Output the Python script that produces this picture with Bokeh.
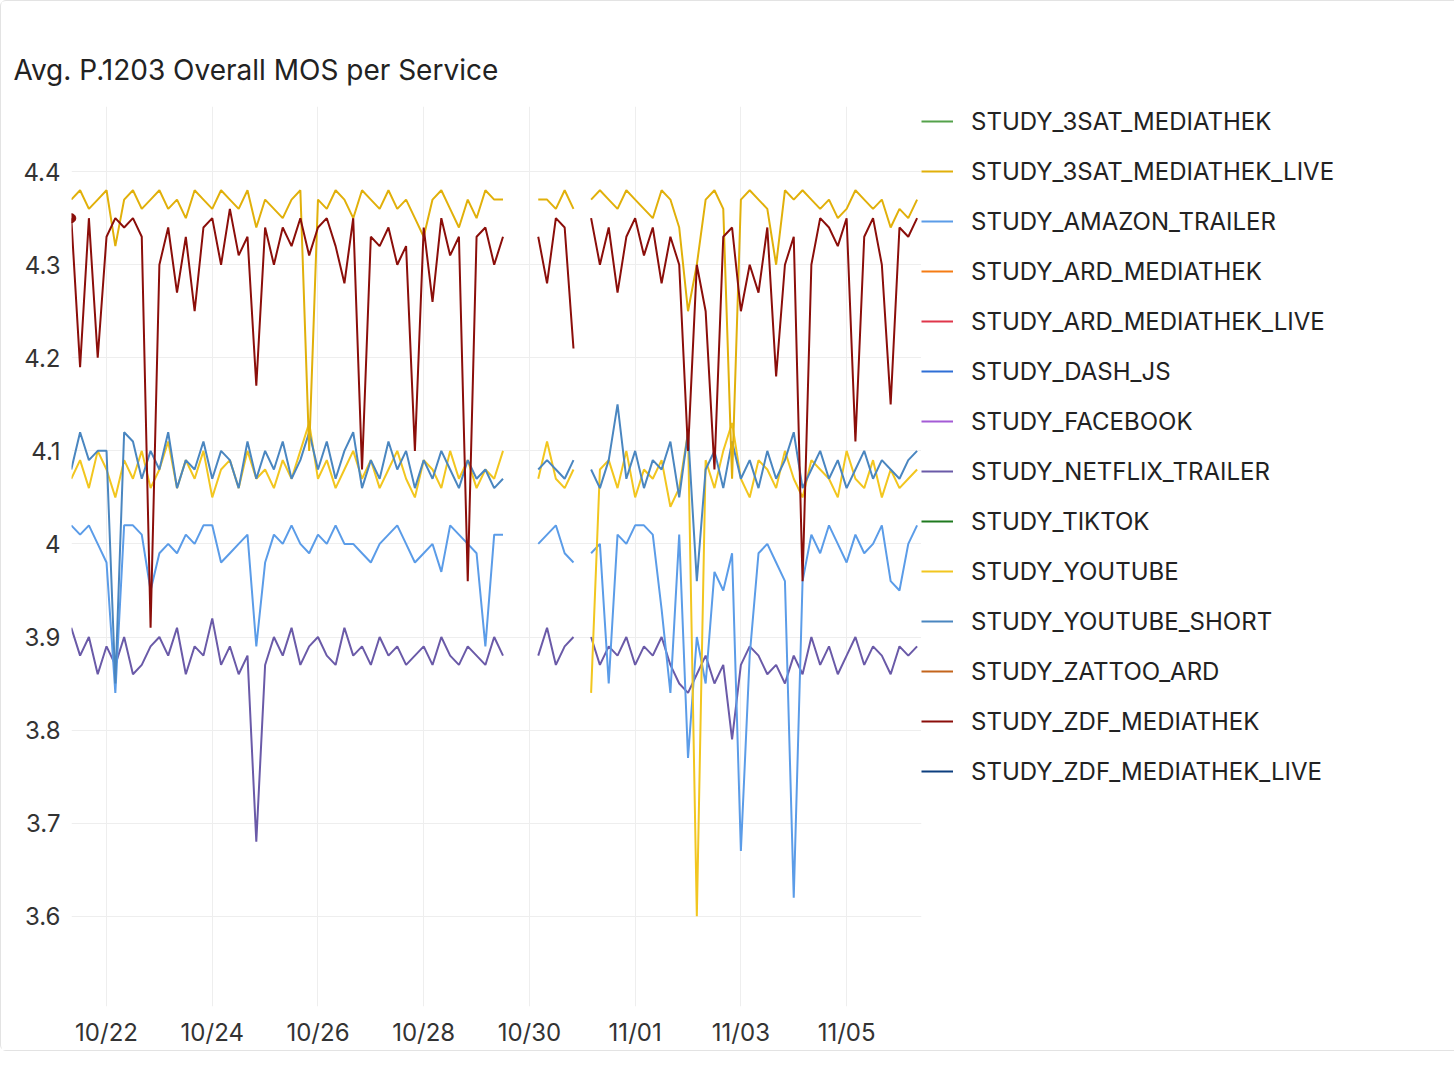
import numpy as np
import pandas as pd
from bokeh.plotting import figure
from bokeh.models import Legend, LegendItem, Range1d, DatetimeTickFormatter, FixedTicker, CustomJSTickFormatter
from bokeh.embed import file_html
from bokeh.resources import INLINE

N = np.nan
times = pd.date_range("2025-10-21 08:00", periods=97, freq="4h")

services = ["STUDY_3SAT_MEDIATHEK", "STUDY_3SAT_MEDIATHEK_LIVE", "STUDY_AMAZON_TRAILER", "STUDY_ARD_MEDIATHEK",
            "STUDY_ARD_MEDIATHEK_LIVE", "STUDY_DASH_JS", "STUDY_FACEBOOK", "STUDY_NETFLIX_TRAILER", "STUDY_TIKTOK",
            "STUDY_YOUTUBE", "STUDY_YOUTUBE_SHORT", "STUDY_ZATTOO_ARD", "STUDY_ZDF_MEDIATHEK", "STUDY_ZDF_MEDIATHEK_LIVE"]
colors = ["#54a24b", "#e1b00a", "#5b9ce8", "#f57c14", "#e0364b", "#2f6fd6", "#a45bd6", "#6a5aa8", "#1f7a1f",
          "#f2c61f", "#4a86c0", "#c4651c", "#8b0e0a", "#0d3f7f"]
hidden = ["STUDY_ARD_MEDIATHEK", "STUDY_ARD_MEDIATHEK_LIVE", "STUDY_DASH_JS", "STUDY_FACEBOOK"]
tick_dates = ["2025-10-22", "2025-10-24", "2025-10-26", "2025-10-28", "2025-10-30",
              "2025-11-01", "2025-11-03", "2025-11-05"]
y_ticks = [3.6, 3.7, 3.8, 3.9, 4.0, 4.1, 4.2, 4.3, 4.4]

zdf = [4.35,4.19,4.35,4.20,4.33,4.35,4.34,4.35,4.33,3.91,4.30,4.34,4.27,4.33,4.25,4.34,4.35,4.30,4.36,4.31,
       4.33,4.17,4.34,4.30,4.34,4.32,4.35,4.31,4.34,4.35,4.32,4.28,4.35,4.08,4.33,4.32,4.34,4.30,4.32,4.10,
       4.34,4.26,4.35,4.31,4.33,3.96,4.33,4.34,4.30,4.33,N,N,N,4.33,4.28,4.35,4.34,4.21,N,4.35,
       4.30,4.34,4.27,4.33,4.35,4.31,4.34,4.28,4.33,4.30,4.10,4.30,4.25,4.08,4.33,4.34,4.25,4.30,4.27,4.34,
       4.18,4.30,4.33,3.96,4.30,4.35,4.34,4.32,4.35,4.11,4.33,4.35,4.30,4.15,4.34,4.33,4.35]
sat_live = [4.37,4.38,4.36,4.37,4.38,4.32,4.37,4.38,4.36,4.37,4.38,4.36,4.37,4.35,4.38,4.37,4.36,4.38,4.37,4.36,
            4.38,4.34,4.37,4.36,4.35,4.37,4.38,4.10,4.37,4.36,4.38,4.37,4.35,4.38,4.37,4.36,4.38,4.36,4.37,4.35,
            4.33,4.37,4.38,4.36,4.34,4.37,4.35,4.38,4.37,4.37,N,N,N,4.37,4.37,4.36,4.38,4.36,N,4.37,
            4.38,4.37,4.36,4.38,4.37,4.36,4.35,4.38,4.37,4.34,4.25,4.30,4.37,4.38,4.36,4.07,4.37,4.38,4.37,4.36,
            4.30,4.38,4.37,4.38,4.37,4.36,4.37,4.35,4.36,4.38,4.37,4.36,4.37,4.34,4.36,4.35,4.37]
youtube = [4.07,4.09,4.06,4.10,4.08,4.05,4.09,4.07,4.10,4.06,4.08,4.11,4.06,4.09,4.07,4.10,4.05,4.08,4.09,4.06,
           4.10,4.07,4.08,4.06,4.09,4.07,4.10,4.13,4.07,4.09,4.06,4.08,4.10,4.07,4.09,4.06,4.08,4.10,4.07,4.05,
           4.09,4.08,4.06,4.10,4.07,4.09,4.06,4.08,4.07,4.10,N,N,N,4.07,4.11,4.07,4.06,4.08,N,3.84,
           4.08,4.09,4.06,4.10,4.05,4.08,4.07,4.09,4.04,4.06,4.12,3.60,4.09,4.06,4.10,4.13,4.07,4.05,4.09,4.08,
           4.06,4.10,4.07,4.05,4.09,4.08,4.07,4.05,4.10,4.07,4.06,4.09,4.05,4.08,4.06,4.07,4.08]
yt_short = [4.08,4.12,4.09,4.10,4.10,3.85,4.12,4.11,4.07,4.10,4.08,4.12,4.06,4.09,4.08,4.11,4.07,4.10,4.09,4.06,
            4.11,4.07,4.10,4.08,4.11,4.07,4.09,4.12,4.08,4.11,4.07,4.10,4.12,4.06,4.09,4.07,4.11,4.08,4.10,4.06,
            4.09,4.07,4.10,4.08,4.06,4.09,4.07,4.08,4.06,4.07,N,N,N,4.08,4.09,4.08,4.07,4.09,N,4.08,
            4.06,4.09,4.15,4.07,4.10,4.06,4.09,4.08,4.11,4.05,4.12,3.96,4.08,4.10,4.06,4.11,4.07,4.09,4.06,4.10,
            4.07,4.09,4.12,4.06,4.08,4.10,4.07,4.09,4.06,4.08,4.10,4.07,4.09,4.08,4.07,4.09,4.10]
amazon = [4.02,4.01,4.02,4.00,3.98,3.84,4.02,4.02,4.01,3.95,3.99,4.00,3.99,4.01,4.00,4.02,4.02,3.98,3.99,4.00,
          4.01,3.89,3.98,4.01,4.00,4.02,4.00,3.99,4.01,4.00,4.02,4.00,4.00,3.99,3.98,4.00,4.01,4.02,4.00,3.98,
          3.99,4.00,3.97,4.02,4.01,4.00,3.99,3.89,4.01,4.01,N,N,N,4.00,4.01,4.02,3.99,3.98,N,3.99,
          4.00,3.85,4.01,4.00,4.02,4.02,4.01,3.93,3.84,4.01,3.77,3.90,3.85,3.97,3.95,3.99,3.67,3.88,3.99,4.00,
          3.98,3.96,3.62,3.96,4.01,3.99,4.02,4.00,3.98,4.01,3.99,4.00,4.02,3.96,3.95,4.00,4.02]
netflix = [3.91,3.88,3.90,3.86,3.89,3.87,3.90,3.86,3.87,3.89,3.90,3.88,3.91,3.86,3.89,3.88,3.92,3.87,3.89,3.86,
           3.88,3.68,3.87,3.90,3.88,3.91,3.87,3.89,3.90,3.88,3.87,3.91,3.88,3.89,3.87,3.90,3.88,3.89,3.87,3.88,
           3.89,3.87,3.90,3.88,3.87,3.89,3.88,3.87,3.90,3.88,N,N,N,3.88,3.91,3.87,3.89,3.90,N,3.90,
           3.87,3.89,3.88,3.90,3.87,3.89,3.88,3.90,3.87,3.85,3.84,3.86,3.88,3.85,3.87,3.79,3.87,3.89,3.88,3.86,
           3.87,3.85,3.88,3.86,3.90,3.87,3.89,3.86,3.88,3.90,3.87,3.89,3.88,3.86,3.89,3.88,3.89]

series = {"STUDY_3SAT_MEDIATHEK_LIVE": sat_live, "STUDY_AMAZON_TRAILER": amazon, "STUDY_NETFLIX_TRAILER": netflix,
          "STUDY_YOUTUBE": youtube, "STUDY_YOUTUBE_SHORT": yt_short, "STUDY_ZDF_MEDIATHEK": zdf}
draw_order = ["STUDY_NETFLIX_TRAILER", "STUDY_AMAZON_TRAILER", "STUDY_YOUTUBE", "STUDY_YOUTUBE_SHORT",
              "STUDY_3SAT_MEDIATHEK_LIVE", "STUDY_ZDF_MEDIATHEK"]

FONT = "Inter"
p = figure(width=1438, height=1066, output_backend="svg", toolbar_location=None, x_axis_type="datetime",
           frame_width=850, frame_height=900,
           x_range=Range1d(pd.Timestamp("2025-10-21 08:06"), pd.Timestamp("2025-11-06 10:00")),
           y_range=Range1d(3.503, 4.47), min_border_left=70, min_border_top=105, min_border_bottom=44)
p.title.text = "Avg. P.1203 Overall MOS per Service"
p.title.text_font = FONT
p.title.text_font_size = "28px"
p.title.text_font_style = "normal"
p.title.text_color = "#222"
p.title.offset = -58
p.title.standoff = 40
p.outline_line_color = None
p.styles = {"border": "1px solid #e3e3e3", "border-radius": "6px"}

renderers = {}
for name in draw_order:
    i = services.index(name)
    renderers[name] = p.line(times, series[name], color=colors[i], line_width=2)
p.scatter([times[0]], [zdf[0]], size=9, color=colors[services.index("STUDY_ZDF_MEDIATHEK")])

items = []
for name, c in zip(services, colors):
    if name in renderers:
        r = renderers[name]
    else:
        r = p.line([times[0]], [np.nan], color=c, line_width=2)
        if name in hidden:
            r.visible = False
    items.append(LegendItem(label=name, renderers=[r]))
legend = Legend(items=items, label_text_font=FONT, label_text_font_size="24px", label_text_color="#222",
                glyph_width=32, glyph_height=30, label_height=30, spacing=20, label_standoff=18,
                border_line_color=None, inactive_fill_color="white", inactive_fill_alpha=0.45,
                margin=0, padding=0, location="top_left")
p.add_layout(legend, "right")

p.xaxis.ticker = FixedTicker(ticks=[pd.Timestamp(d).value / 1e6 for d in tick_dates])
p.xaxis.formatter = DatetimeTickFormatter(days="%m/%d", months="%m/%d")
p.yaxis.ticker = FixedTicker(ticks=y_ticks)
p.yaxis.formatter = CustomJSTickFormatter(code="return (Math.round(tick*10)/10).toString()")
for ax in (p.xaxis, p.yaxis):
    ax.axis_line_color = None
    ax.major_tick_line_color = None
    ax.minor_tick_line_color = None
    ax.major_label_text_font = FONT
    ax.major_label_text_font_size = "24px"
    ax.major_label_text_color = "#333"
p.xgrid.grid_line_color = "#eeeeee"
p.ygrid.grid_line_color = "#eeeeee"

open("out.html", "w").write(file_html(p, INLINE))
